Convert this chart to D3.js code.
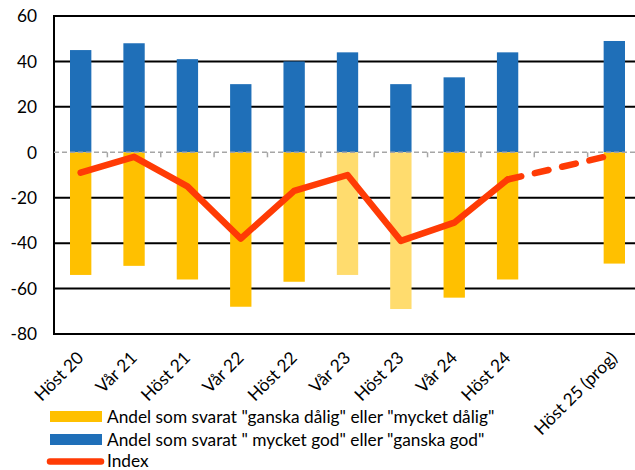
<!DOCTYPE html>
<html>
<head>
<meta charset="utf-8">
<script src="https://cdn.jsdelivr.net/npm/d3@7"></script>
<style>
  body { margin: 0; background: #fff; }
  text { font-family: Lato, 'Open Sans', sans-serif; fill: #000; }
</style>
</head>
<body>
<div id="chart"></div>
<script>
'use strict';

// periods, the empty slot before the forecast is kept as ''
const categories = ['Höst 20', 'Vår 21', 'Höst 21', 'Vår 22', 'Höst 22', 'Vår 23',
  'Höst 23', 'Vår 24', 'Höst 24', '', 'Höst 25 (prog)'];
const goodShare = [45, 48, 41, 30, 40, 44, 30, 33, 44, null, 49];
const badShare = [-54, -50, -56, -68, -57, -54, -69, -64, -56, null, -49];
const indexValues = [-9, -2, -15, -38, -17, -10, -39, -31, -12, null, -1];
const lightCats = ['Vår 23', 'Höst 23'];
const yTicks = [-80, -60, -40, -20, 0, 20, 40, 60];
const legendLabels = [
  'Andel som svarat "ganska dålig" eller "mycket dålig"',
  'Andel som svarat " mycket god" eller "ganska god"',
  'Index'
];

const width = 635;
const height = 470;
const margin = {top: 16, right: -6, bottom: 136, left: 54};
const FONT = '17.3px';

window.onload = function () {
  const svg = d3.select('#chart').append('svg')
    .attr('width', width)
    .attr('height', height);

  const x = d3.scaleBand()
    .domain(categories)
    .range([margin.left, width - margin.right])
    .paddingInner(0.6)
    .paddingOuter(0.3);

  const y = d3.scaleLinear()
    .domain([-80, 60])
    .range([height - margin.bottom, margin.top]);

  drawGrid(svg, x, y);
  drawBars(svg, x, y);
  drawZeroLine(svg, x, y);
  drawIndex(svg, x, y);
  drawAxisLabels(svg, x, y);
  drawLegend(svg);
};

function drawGrid(svg, x, y) {
  const g = svg.append('g').attr('id', 'grid');
  g.selectAll('line')
      .data(yTicks.filter(function(d) { return d !== 0; }))
    .enter().append('line')
      .attr('x1', margin.left)
      .attr('x2', width - margin.right)
      .attr('y1', function(d) { return y(d); })
      .attr('y2', function(d) { return y(d); })
      .attr('stroke', '#000')
      .attr('stroke-width', 2);

  // left axis
  g.append('line')
    .attr('x1', margin.left)
    .attr('x2', margin.left)
    .attr('y1', y(60) - 1)
    .attr('y2', y(-80) + 1)
    .attr('stroke', '#000')
    .attr('stroke-width', 2);
}

function drawBars(svg, x, y) {
  const rows = categories.map(function(c, i) {
    return {cat: c, good: goodShare[i], bad: badShare[i]};
  }).filter(function(d) { return d.good !== null; });

  const g = svg.append('g').attr('id', 'bars');

  g.selectAll('.good')
      .data(rows)
    .enter().append('rect')
      .classed('good', true)
      .attr('x', function(d) { return x(d.cat); })
      .attr('width', x.bandwidth())
      .attr('y', function(d) { return y(d.good); })
      .attr('height', function(d) { return y(0) - y(d.good); })
      .attr('fill', '#1F6FB8');

  g.selectAll('.bad')
      .data(rows)
    .enter().append('rect')
      .classed('bad', true)
      .attr('x', function(d) { return x(d.cat); })
      .attr('width', x.bandwidth())
      .attr('y', y(0))
      .attr('height', function(d) { return y(d.bad) - y(0); })
      .attr('fill', function(d) {
        return lightCats.indexOf(d.cat) >= 0 ? '#FFDC6E' : '#FFC000';
      });
}

function drawZeroLine(svg, x, y) {
  const g = svg.append('g').attr('id', 'zero');
  const step = x.step();

  g.append('line')
    .attr('x1', margin.left)
    .attr('x2', width - margin.right)
    .attr('y1', y(0))
    .attr('y2', y(0))
    .attr('stroke', '#A6A6A6')
    .attr('stroke-width', 1.5)
    .attr('stroke-dasharray', '5,3');

  // small ticks between the categories
  g.selectAll('.tick')
      .data(categories.slice(1))
    .enter().append('line')
      .classed('tick', true)
      .attr('x1', function(d) { return x(d) - x.paddingOuter() * step; })
      .attr('x2', function(d) { return x(d) - x.paddingOuter() * step; })
      .attr('y1', y(0))
      .attr('y2', y(0) + 5)
      .attr('stroke', '#A6A6A6')
      .attr('stroke-width', 1.5);
}

function drawIndex(svg, x, y) {
  const pts = categories.map(function(c, i) {
    return {cat: c, v: indexValues[i]};
  }).filter(function(d) { return d.v !== null; });

  const line = d3.line()
    .x(function(d) { return x(d.cat) + x.bandwidth() / 2; })
    .y(function(d) { return y(d.v); });

  const solid = pts.slice(0, pts.length - 1);
  const prog = pts.slice(pts.length - 2);

  const g = svg.append('g').attr('id', 'index');
  g.append('path')
    .datum(prog)
    .attr('d', line)
    .attr('fill', 'none')
    .attr('stroke', '#FF3B05')
    .attr('stroke-width', 6.5)
    .attr('stroke-linecap', 'round')
    .attr('stroke-dasharray', '14,14');

  g.append('path')
    .datum(solid)
    .attr('d', line)
    .attr('fill', 'none')
    .attr('stroke', '#FF3B05')
    .attr('stroke-width', 6.5)
    .attr('stroke-linejoin', 'round')
    .attr('stroke-linecap', 'round');
}

function drawAxisLabels(svg, x, y) {
  svg.append('g').attr('id', 'ylabels')
    .selectAll('text')
      .data(yTicks)
    .enter().append('text')
      .attr('x', 37)
      .attr('y', function(d) { return y(d); })
      .attr('dy', '0.36em')
      .attr('text-anchor', 'end')
      .style('font-size', FONT)
      .text(function(d) { return d; });

  svg.append('g').attr('id', 'xlabels')
    .selectAll('text')
      .data(categories.filter(function(c) { return c !== ''; }))
    .enter().append('text')
      .attr('transform', function(d) {
        const cx = x(d) + x.bandwidth() / 2 + 4;
        return 'translate(' + cx + ',' + 359 + ') rotate(-45)';
      })
      .attr('text-anchor', 'end')
      .style('font-size', FONT)
      .text(function(d) { return d; });
}

function drawLegend(svg) {
  const g = svg.append('g').attr('id', 'legend');
  const rowY = [416.5, 439.5, 460.5];

  g.append('rect')
    .attr('x', 50).attr('y', rowY[0] - 5.5)
    .attr('width', 52).attr('height', 11)
    .attr('fill', '#FFC000');
  g.append('rect')
    .attr('x', 50).attr('y', rowY[1] - 5.5)
    .attr('width', 52).attr('height', 11)
    .attr('fill', '#1F6FB8');
  g.append('line')
    .attr('x1', 50).attr('x2', 101)
    .attr('y1', rowY[2] + 1).attr('y2', rowY[2] + 1)
    .attr('stroke', '#FF3B05')
    .attr('stroke-width', 6.5)
    .attr('stroke-linecap', 'round');

  g.selectAll('text')
      .data(legendLabels)
    .enter().append('text')
      .attr('x', 107)
      .attr('y', function(d, i) { return rowY[i]; })
      .attr('dy', '0.36em')
      .style('font-size', FONT)
      .text(function(d) { return d; });
}
</script>
</body>
</html>
